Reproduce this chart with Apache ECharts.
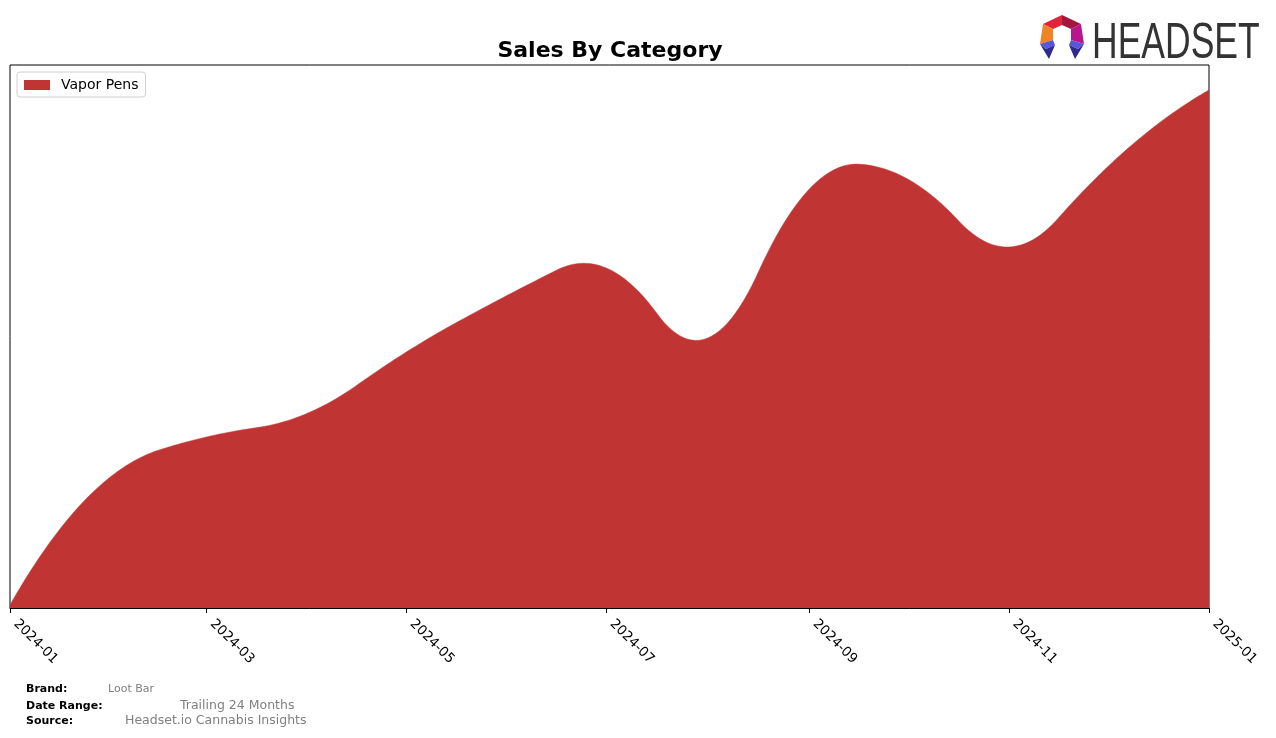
<!DOCTYPE html>
<html>
<head>
<meta charset="utf-8">
<script src="https://cdn.jsdelivr.net/npm/echarts@6/dist/echarts.min.js"></script>
<style>
html,body{margin:0;padding:0;background:#fff;}
#chart{width:1276px;height:738px;}
</style>
</head>
<body>
<div id="chart"></div>
<script>
// ---- data ----
const months = ['2024-01','2024-02','2024-03','2024-04','2024-05','2024-06','2024-07','2024-08','2024-09','2024-10','2024-11','2024-12','2025-01'];
const vaporPens = [300, 13200, 17100, 19500, 25600, 31300, 34000, 27000, 41900, 42900, 36100, 44100, 51800];
const tickLabels = ['2024-01','2024-03','2024-05','2024-07','2024-09','2024-11','2025-01'];
const seriesName = 'Vapor Pens';

function ts(s){ const p = s.split('-'); return new Date(+p[0], +p[1]-1, 1).getTime(); }
function fmt(v){ const d = new Date(v); return d.getFullYear() + '-' + String(d.getMonth()+1).padStart(2,'0'); }

// quadratic interpolating B-spline (knots at midpoints, as scipy make_interp_spline k=2)
function bsBasis(t, k, x){
  const m = t.length, n = m - k - 1;
  let s = k; while (s < n - 1 && x >= t[s+1]) s++;
  let N = new Array(m - 1).fill(0); N[s] = 1;
  for (let d = 1; d <= k; d++){
    const NN = new Array(m - 1 - d).fill(0);
    for (let j = 0; j < m - 1 - d; j++){
      const l = t[j+d] - t[j], r = t[j+d+1] - t[j+1];
      NN[j] = (l ? (x - t[j]) / l * N[j] : 0) + (r ? (t[j+d+1] - x) / r * N[j+1] : 0);
    }
    N = NN;
  }
  return N;
}
function solve(A, b){
  const n = b.length; A = A.map(r => r.slice()); b = b.slice();
  for (let c = 0; c < n; c++){
    let p = c;
    for (let r = c + 1; r < n; r++) if (Math.abs(A[r][c]) > Math.abs(A[p][c])) p = r;
    [A[c], A[p]] = [A[p], A[c]]; [b[c], b[p]] = [b[p], b[c]];
    for (let r = c + 1; r < n; r++){
      const f = A[r][c] / A[c][c];
      if (!f) continue;
      for (let k = c; k < n; k++) A[r][k] -= f * A[c][k];
      b[r] -= f * b[c];
    }
  }
  const out = new Array(n).fill(0);
  for (let r = n - 1; r >= 0; r--){
    let s = b[r];
    for (let k = r + 1; k < n; k++) s -= A[r][k] * out[k];
    out[r] = s / A[r][r];
  }
  return out;
}
function splineSamples(xs, ys, count){
  const k = 2, n = xs.length;
  const mids = [];
  for (let i = 0; i < n - 1; i++) mids.push((xs[i] + xs[i+1]) / 2);
  const t = [xs[0], xs[0], xs[0]].concat(mids.slice(1, -1), [xs[n-1], xs[n-1], xs[n-1]]);
  const A = xs.map(x => bsBasis(t, k, x));
  const c = solve(A, ys);
  const out = [];
  for (let j = 0; j < count; j++){
    const x = xs[0] + (xs[n-1] - xs[0]) * j / (count - 1);
    const B = bsBasis(t, k, x);
    let y = 0; for (let q = 0; q < B.length; q++) y += B[q] * c[q];
    out.push([x, y]);
  }
  return out;
}

const chart = echarts.init(document.getElementById('chart'), null, {renderer:'canvas'});
const red = '#c03434';
const FONT = 'DejaVu Sans';
const tickTs = tickLabels.map(ts);
const xs = months.map(ts);
const curve = splineSamples(xs, vaporPens, 300);

const option = {
  animation: false,
  backgroundColor: '#ffffff',
  grid: { left: 10, right: 67, top: 65, bottom: 130, show: true, borderColor: '#000', borderWidth: 1, backgroundColor: 'transparent', containLabel: false },
  legend: {
    data: [seriesName],
    left: 17, top: 72,
    orient: 'vertical',
    icon: 'rect', itemWidth: 26, itemHeight: 10, itemGap: 10,
    padding: [6, 7, 5, 7],
    borderColor: '#d0d0d0', borderWidth: 1, borderRadius: 3,
    backgroundColor: '#fff',
    textStyle: { fontFamily: FONT, fontSize: 14, color: '#000', padding: [0, 0, 0, 6] }
  },
  xAxis: {
    type: 'value',
    min: xs[0], max: xs[xs.length-1],
    axisLine: { show: true, lineStyle: { color: '#000', width: 1 } },
    axisTick: { show: true, length: 5, lineStyle: { color: '#000' }, customValues: tickTs },
    axisLabel: { show: true, rotate: -45, fontFamily: FONT, fontSize: 13.5, color: '#000', margin: 8,
      padding: [0, 0, 0, 8],
      customValues: tickTs, formatter: fmt, hideOverlap: false, showMinLabel: true, showMaxLabel: true },
    splitLine: { show: false }
  },
  yAxis: {
    type: 'value', min: 0, max: 54300,
    show: false, splitLine: { show: false }
  },
  series: [{
    name: seriesName,
    type: 'custom',
    clip: true,
    itemStyle: { color: red },
    data: months.map((m, i) => [xs[i], vaporPens[i]]),
    renderItem: function (params, api) {
      if (params.dataIndex !== 0) return null;
      const pts = curve.map(p => api.coord(p));
      pts.push(api.coord([xs[xs.length-1], 0]));
      pts.push(api.coord([xs[0], 0]));
      return { type: 'polygon', shape: { points: pts }, style: { fill: red, stroke: red, lineWidth: 0.5 } };
    }
  }],
  graphic: [
    { type: 'text', x: 610, y: 51, style: { text: 'Sales By Category', font: 'bold 22px "DejaVu Sans"', fill: '#000', textAlign: 'center', textVerticalAlign: 'middle' } },
    // footer
    { type: 'text', left: 26, top: 684, style: { text: 'Brand:', font: 'bold 11px "DejaVu Sans"', fill: '#000' } },
    { type: 'text', left: 108, top: 684, style: { text: 'Loot Bar', font: '11px "DejaVu Sans"', fill: '#808080' } },
    { type: 'text', left: 26, top: 701, style: { text: 'Date Range:', font: 'bold 11px "DejaVu Sans"', fill: '#000' } },
    { type: 'text', left: 180, top: 699, style: { text: 'Trailing 24 Months', font: '12.5px "DejaVu Sans"', fill: '#808080' } },
    { type: 'text', left: 26, top: 716, style: { text: 'Source:', font: 'bold 11px "DejaVu Sans"', fill: '#000' } },
    { type: 'text', left: 125, top: 714, style: { text: 'Headset.io Cannabis Insights', font: '12.5px "DejaVu Sans"', fill: '#808080' } },
    // logo icon
    { type: 'polygon', shape: { points: [[1062,15],[1043,24],[1053,29],[1062,25]] }, style: { fill: '#e0243a' } },
    { type: 'polygon', shape: { points: [[1062,15],[1081,24],[1071,29],[1062,25]] }, style: { fill: '#a3173f' } },
    { type: 'polygon', shape: { points: [[1043,24],[1040,44],[1053,40],[1053,29]] }, style: { fill: '#f08424' } },
    { type: 'polygon', shape: { points: [[1081,24],[1084,44],[1071,40],[1071,29]] }, style: { fill: '#b8168c' } },
    { type: 'polygon', shape: { points: [[1040,44],[1053,40],[1055,45],[1046,49]] }, style: { fill: '#5a56d8' } },
    { type: 'polygon', shape: { points: [[1040,44],[1046,49],[1055,45],[1049,59]] }, style: { fill: '#2c2a8e' } },
    { type: 'polygon', shape: { points: [[1084,44],[1071,40],[1069,45],[1078,49]] }, style: { fill: '#5a56d8' } },
    { type: 'polygon', shape: { points: [[1084,44],[1078,49],[1069,45],[1075,59]] }, style: { fill: '#2c2a8e' } },
    { type: 'text', x: 1092, y: 19, scaleX: 0.71, style: { text: 'HEADSET', font: '50px "Liberation Sans"', fill: '#333333', textVerticalAlign: 'top' } }
  ]
};
chart.setOption(option);
</script>
</body>
</html>
